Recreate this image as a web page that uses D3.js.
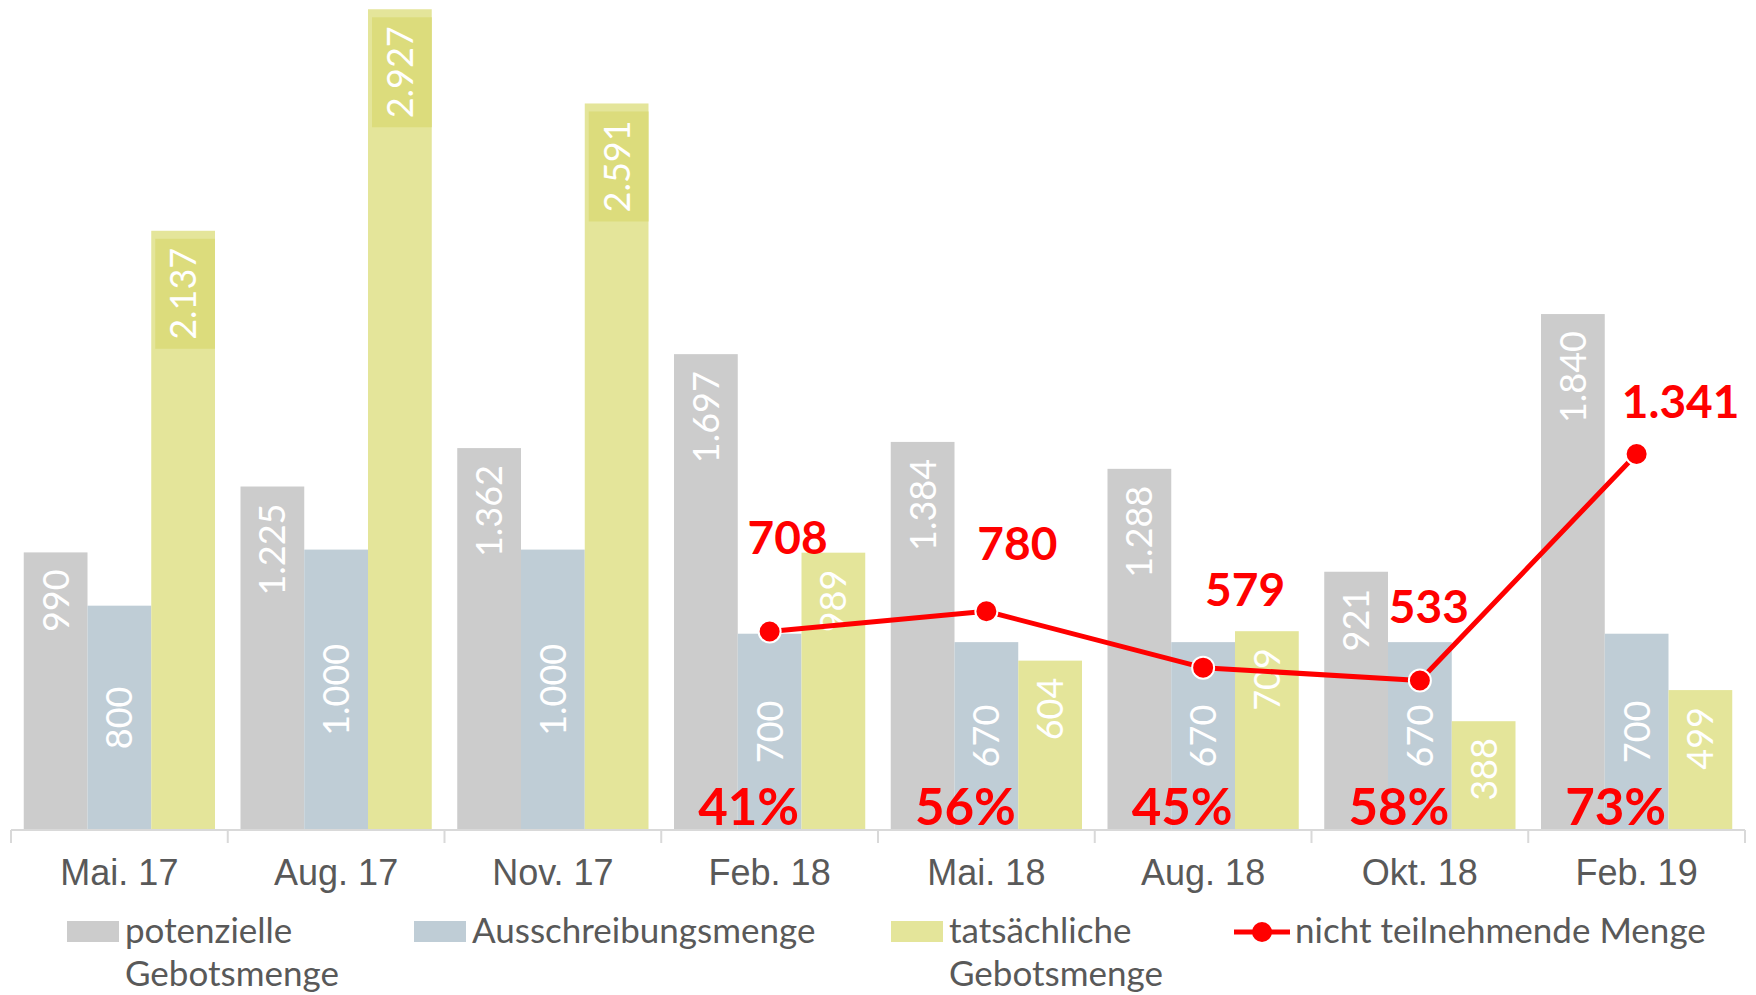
<!DOCTYPE html>
<html>
<head>
<meta charset="utf-8">
<script src="https://cdn.jsdelivr.net/npm/d3@7"></script>
<style>
  body { margin: 0; background: #fff; }
  svg { display: block; font-family: Lato, "Open Sans", sans-serif; }
</style>
</head>
<body>
<svg id="chart" width="1756" height="995"></svg>
<script>
// chart data
let categories = ["Mai. 17", "Aug. 17", "Nov. 17", "Feb. 18", "Mai. 18", "Aug. 18", "Okt. 18", "Feb. 19"];
let potenzielle = [990, 1225, 1362, 1697, 1384, 1288, 921, 1840];
let ausschreibung = [800, 1000, 1000, 700, 670, 670, 670, 700];
let tatsaechliche = [2137, 2927, 2591, 989, 604, 709, 388, 499];
let nichtTeilnehmend = [null, null, null, 708, 780, 579, 533, 1341];
let anteilProzent = [null, null, null, 41, 56, 45, 58, 73];
let boxedLabelCats = ["Mai. 17", "Aug. 17", "Nov. 17"]; // yellow labels that have a fill box

// where the labels of the red line were moved to (dx, dy from the point)
let lineLabelNudge = [null, null, null, [18, -94], [31, -67], [42, -78], [9, -74], [44, -52]];

let series = [
    { key: "pot", name: ["potenzielle", "Gebotsmenge"], values: potenzielle, color: "#cccccc", labelPos: "end" },
    { key: "aus", name: ["Ausschreibungsmenge"], values: ausschreibung, color: "#bfcdd6", labelPos: "center" },
    { key: "tat", name: ["tatsächliche", "Gebotsmenge"], values: tatsaechliche, color: "#e4e59a", labelPos: "end" }
];

let de = d3.formatLocale({ decimal: ",", thousands: ".", grouping: [3], currency: ["", " €"] });
let fmt = de.format(",d");

let svg = d3.select("#chart");

let x0 = d3.scaleBand().domain(categories).range([11, 1745]).paddingInner(0).paddingOuter(0);
let x1 = d3.scaleBand().domain(series.map(s => s.key)).range([0, x0.bandwidth()]).paddingInner(0).paddingOuter(0.2);
let y = d3.scaleLinear().domain([0, 2960]).range([830, 0]);

// bars
let groups = svg.append("g").selectAll("g")
    .data(series)
    .enter()
    .append("g");

groups.selectAll("rect")
    .data(s => categories.map((c, i) => ({ cat: c, value: s.values[i], s: s })))
    .enter()
    .append("rect")
    .attr("x", d => x0(d.cat) + x1(d.s.key))
    .attr("y", d => y(d.value))
    .attr("width", x1.bandwidth())
    .attr("height", d => y(0) - y(d.value))
    .attr("fill", d => d.s.color);

// value labels inside bars
let labelG = svg.append("g");
series.forEach(s => {
    categories.forEach((c, i) => {
        let v = s.values[i];
        let cx = x0(c) + x1(s.key) + x1.bandwidth() / 2;
        let t = labelG.append("text")
            .attr("fill", "#fff")
            .style("font-size", "36px")
            .style("font-weight", 400)
            .attr("dy", "0.36em")
            .text(fmt(v));
        if (s.labelPos === "center") {
            let cy = (y(v) + y(0)) / 2;
            t.attr("text-anchor", "middle")
             .attr("transform", `translate(${cx},${cy}) rotate(-90)`);
        } else {
            let top = y(v) + 17;
            t.attr("text-anchor", "end")
             .attr("transform", `translate(${cx},${top}) rotate(-90)`);
            if (s.key === "tat" && boxedLabelCats.includes(c)) {
                let len = t.node().getComputedTextLength();
                labelG.insert("rect", "text")
                    .attr("x", x0(c) + x1(s.key) + 4)
                    .attr("y", y(v) + 8)
                    .attr("width", x1.bandwidth() - 4)
                    .attr("height", len + 18)
                    .attr("fill", "#dcdc7c");
            }
        }
    });
});

// x axis
let xAxis = d3.axisBottom(x0).tickSize(0).tickPadding(0).tickFormat("");
let axisG = svg.append("g").attr("transform", `translate(0,${y(0)})`).call(xAxis);
axisG.select(".domain").attr("stroke", "#d9d9d9").attr("stroke-width", 2).attr("d", "M11,0H1745");
let bounds = categories.map(c => x0(c)).concat([x0.range()[1]]);
axisG.selectAll("line.sep")
    .data(bounds)
    .enter()
    .append("line")
    .attr("class", "sep")
    .attr("x1", d => d).attr("x2", d => d)
    .attr("y1", 0).attr("y2", 13)
    .attr("stroke", "#d9d9d9")
    .attr("stroke-width", 2);
axisG.selectAll("text.cat")
    .data(categories)
    .enter()
    .append("text")
    .attr("class", "cat")
    .attr("x", d => x0(d) + x0.bandwidth() / 2)
    .attr("y", 42)
    .attr("dy", "0.35em")
    .attr("text-anchor", "middle")
    .attr("fill", "#595959")
    .style("font-size", "36px")
    .text(d => d);

// red line
let linePts = categories.map((c, i) => ({ cat: c, value: nichtTeilnehmend[i], i: i }))
    .filter(d => d.value != null);
let line = d3.line()
    .x(d => x0(d.cat) + x0.bandwidth() / 2)
    .y(d => y(d.value));
svg.append("path")
    .datum(linePts)
    .attr("d", line)
    .attr("fill", "none")
    .attr("stroke", "#ff0000")
    .attr("stroke-width", 5)
    .attr("stroke-linejoin", "round");
svg.append("g").selectAll("circle")
    .data(linePts)
    .enter()
    .append("circle")
    .attr("cx", d => x0(d.cat) + x0.bandwidth() / 2)
    .attr("cy", d => y(d.value))
    .attr("r", 11)
    .attr("fill", "#ff0000")
    .attr("stroke", "#fff")
    .attr("stroke-width", 2);
svg.append("g").selectAll("text")
    .data(linePts)
    .enter()
    .append("text")
    .attr("x", d => x0(d.cat) + x0.bandwidth() / 2 + lineLabelNudge[d.i][0])
    .attr("y", d => y(d.value) + lineLabelNudge[d.i][1])
    .attr("dy", "0.35em")
    .attr("text-anchor", "middle")
    .attr("fill", "#ff0000")
    .style("font-size", "46px")
    .style("font-weight", 700)
    .text(d => fmt(d.value));

// percentages near the bottom
svg.append("g").selectAll("text")
    .data(categories.map((c, i) => ({ cat: c, p: anteilProzent[i] })).filter(d => d.p != null))
    .enter()
    .append("text")
    .attr("x", d => x0(d.cat) + x0.bandwidth() / 2 - 21)
    .attr("y", 825)
    .attr("text-anchor", "middle")
    .attr("fill", "#ff0000")
    .style("font-size", "51px")
    .style("font-weight", 700)
    .text(d => d.p + "%");

// legend
let legendItems = [
    { s: series[0], x: 67 },
    { s: series[1], x: 414 },
    { s: series[2], x: 891 }
];
let legend = svg.append("g");
legendItems.forEach(item => {
    legend.append("rect")
        .attr("x", item.x).attr("y", 921)
        .attr("width", 52).attr("height", 21)
        .attr("fill", item.s.color);
    let t = legend.append("text")
        .attr("x", item.x + 58)
        .attr("y", 931)
        .attr("fill", "#595959")
        .style("font-size", "35px");
    item.s.name.forEach((n, k) => {
        t.append("tspan")
            .attr("x", item.x + 58)
            .attr("dy", k === 0 ? "0.35em" : "43px")
            .text(n);
    });
});
legend.append("line")
    .attr("x1", 1234).attr("x2", 1290)
    .attr("y1", 932).attr("y2", 932)
    .attr("stroke", "#ff0000").attr("stroke-width", 5);
legend.append("circle")
    .attr("cx", 1262).attr("cy", 932).attr("r", 10)
    .attr("fill", "#ff0000");
legend.append("text")
    .attr("x", 1295).attr("y", 931).attr("dy", "0.35em")
    .attr("fill", "#595959")
    .style("font-size", "35px")
    .text("nicht teilnehmende Menge");
</script>
</body>
</html>
